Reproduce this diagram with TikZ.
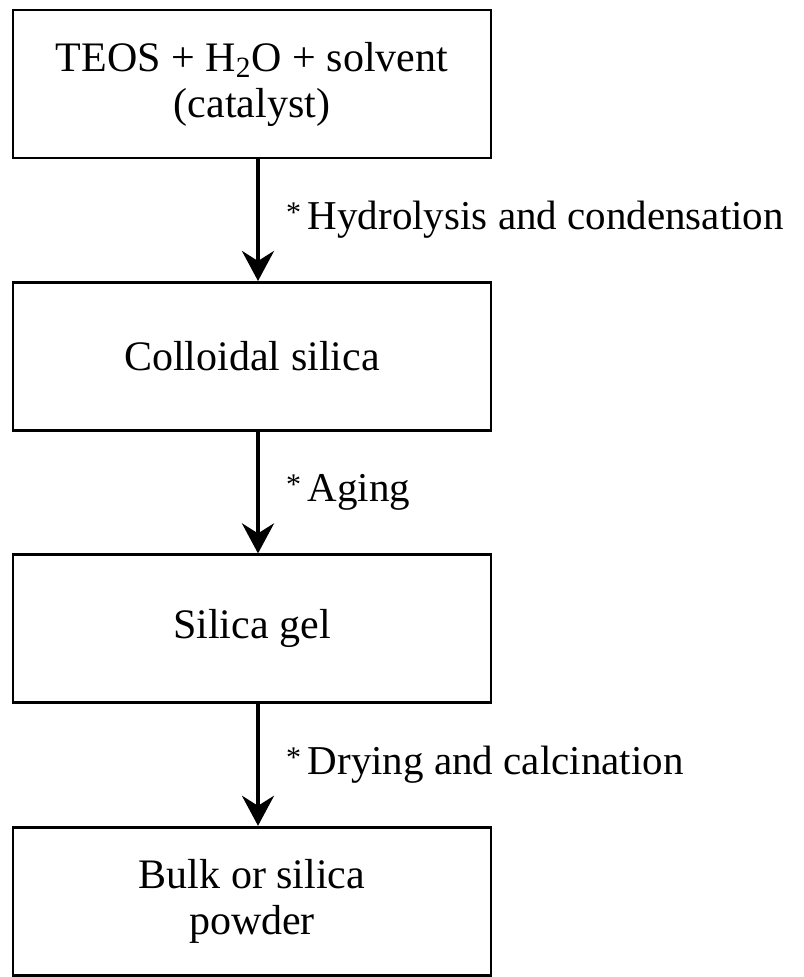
\documentclass[tikz,border=0pt]{standalone}
\usepackage{fontspec}
\setmainfont{Liberation Serif}
\usetikzlibrary{positioning,arrows.meta}
\newcommand{\stepmark}{\raisebox{3.5pt}{\fontsize{15}{15}\selectfont *}\,}
\tikzset{
  box/.style={draw, line width=1.4pt, minimum width=239pt, minimum height=74pt,
    align=center, font=\fontsize{21}{23}\selectfont},
  flow/.style={line width=2pt, -{Stealth[length=15pt,width=16pt,inset=5pt]}},
  note/.style={right, inner sep=0pt, xshift=13pt, font=\fontsize{20.5}{23}\selectfont}
}
\begin{document}
\begin{tikzpicture}[node distance=60.8pt]
\useasboundingbox (0,0) rectangle (401.5pt,-488.5pt);
\node[box] (teos) at (126pt,-42pt) {TEOS + H\textsubscript{2}O + solvent\\(catalyst)};
\node[box, below=of teos] (colloid) {Colloidal silica};
\node[box, below=of colloid] (gel) {Silica gel};
\node[box, below=of gel] (powder) {Bulk or silica\\powder};
\draw[flow] ([xshift=3pt]teos.south) -- ([xshift=3pt]colloid.north)
  node[note, midway] {\stepmark Hydrolysis and condensation};
\draw[flow] ([xshift=3pt]colloid.south) -- ([xshift=3pt]gel.north)
  node[note, midway] {\stepmark Aging};
\draw[flow] ([xshift=3pt]gel.south) -- ([xshift=3pt]powder.north)
  node[note, midway] {\stepmark Drying and calcination};
\end{tikzpicture}
\end{document}
